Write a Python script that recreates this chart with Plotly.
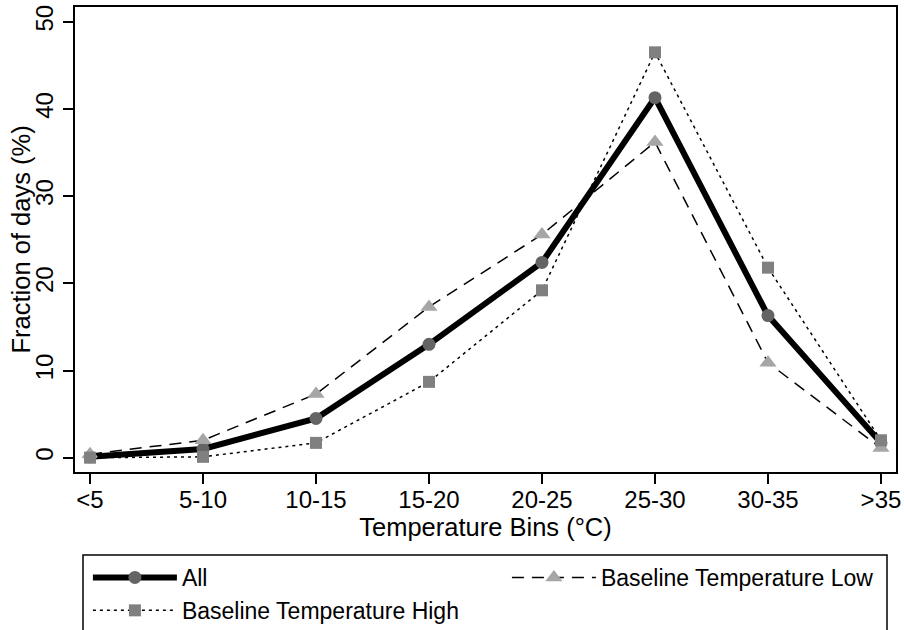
import plotly.graph_objects as go

categories = ["<5", "5-10", "10-15", "15-20", "20-25", "25-30", "30-35", ">35"]
all_vals = [0.1, 1.0, 4.5, 13.0, 22.4, 41.3, 16.3, 1.7]
low_vals = [0.4, 2.0, 7.3, 17.3, 25.6, 36.2, 10.9, 1.1]
high_vals = [0.0, 0.1, 1.7, 8.7, 19.2, 46.5, 21.8, 2.0]
y_ticks = [0, 10, 20, 30, 40, 50]

FONT = "Liberation Sans, Arial, Helvetica, sans-serif"

fig = go.Figure()
fig.add_trace(go.Scatter(
    x=categories, y=all_vals, name="All", mode="lines+markers",
    line=dict(color="black", width=6),
    marker=dict(symbol="circle", size=13, color="#646464"),
))
fig.add_trace(go.Scatter(
    x=categories, y=low_vals, name="Baseline Temperature Low", mode="lines+markers",
    line=dict(color="black", width=1.5, dash="12px,8px"),
    marker=dict(symbol="triangle-up", size=15, color="#a6a6a6"),
))
fig.add_trace(go.Scatter(
    x=categories, y=high_vals, name="Baseline Temperature High", mode="lines+markers",
    line=dict(color="black", width=1.5, dash="3px,4px"),
    marker=dict(symbol="square", size=12, color="#808080"),
))

fig.update_layout(
    width=904, height=630,
    margin=dict(l=75, r=8, t=7, b=158, autoexpand=False),
    paper_bgcolor="white", plot_bgcolor="white",
    font=dict(family=FONT, size=24, color="black"),
    showlegend=True,
    legend=dict(
        orientation="h", xref="paper", yref="paper",
        x=-0.0001, xanchor="left", y=-(556 - 472) / 465, yanchor="top",
        entrywidth=307, entrywidthmode="pixels", indentation=13,
        font=dict(size=23), itemwidth=84, tracegroupgap=0,
        bgcolor="rgba(0,0,0,0)", borderwidth=0,
    ),
    shapes=[dict(
        type="rect", xref="paper", yref="paper",
        x0=(83 - 75) / 821, x1=(887 - 75) / 821,
        y0=-(640 - 472) / 465, y1=-(555 - 472) / 465,
        line=dict(color="black", width=1.5), fillcolor="rgba(0,0,0,0)",
        layer="below",
    )],
    annotations=[dict(
        text="Fraction of days (%)", textangle=-90,
        xref="paper", yref="paper", x=(20 - 75) / 821, y=0.5,
        xanchor="center", yanchor="middle", showarrow=False,
        font=dict(size=25.5),
    )],
)
fig.update_xaxes(
    type="category", range=[-0.133, 7.133], automargin=False,
    showline=True, linecolor="black", linewidth=2, mirror=True,
    ticks="outside", ticklen=10, tickwidth=1.5, tickcolor="black",
    showgrid=False, zeroline=False, ticklabelstandoff=-5,
    tickfont=dict(size=24),
    title=dict(text="Temperature Bins (°C)", font=dict(size=25.5), standoff=0),
)
fig.update_yaxes(
    range=[-1.64, 51.7], tickvals=y_ticks, automargin=False,
    showline=True, linecolor="black", linewidth=2, mirror=True,
    ticks="outside", ticklen=10, tickwidth=1.5, tickcolor="black",
    showgrid=False, zeroline=False, tickangle=-90,
    tickfont=dict(size=24),
)

fig.write_html("out.html")
